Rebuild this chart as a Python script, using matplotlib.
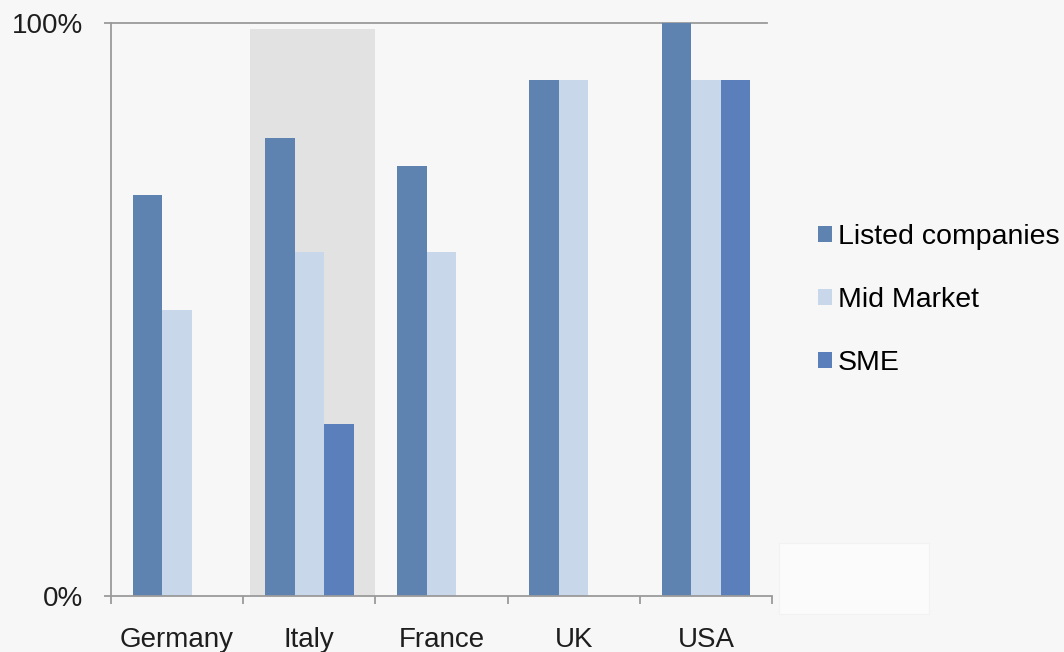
import matplotlib
matplotlib.use("Agg")
import matplotlib.pyplot as plt
from matplotlib.patches import Rectangle
import numpy as np

plt.rcParams['font.family'] = ['Liberation Sans', 'DejaVu Sans']

countries = ["Germany", "Italy", "France", "UK", "USA"]
series_names = ["Listed companies", "Mid Market", "SME"]
listed = [0.70, 0.80, 0.75, 0.90, 1.00]
mid_market = [0.50, 0.60, 0.60, 0.90, 0.90]
sme = [0.0, 0.30, 0.0, 0.0, 0.90]
y_ticks = [0, 1]
y_labels = ["0%", "100%"]
highlight_country = "Italy"

colors = ["#5f83b1", "#c9d7ea", "#5a7fbb"]
bg = "#f7f7f7"

fig = plt.figure(figsize=(10.64, 6.52), dpi=100, facecolor=bg)
ax = fig.add_axes([111/1064, 1-596/652, (772-111)/1064, (596-23)/652])
ax.set_facecolor(bg)

x = np.arange(len(countries))
w = 0.223

# highlight band
hi = countries.index(highlight_country)
ax.add_patch(Rectangle((hi - 0.45, 0), 0.95, 0.99, facecolor="#e2e2e2",
                       edgecolor="none", zorder=0))

for i, (vals, c, name) in enumerate(zip([listed, mid_market, sme], colors, series_names)):
    ax.bar(x + (i - 1) * w, vals, width=w, color=c, label=name, zorder=2)

ax.set_xlim(-0.5, len(countries) - 0.5)
ax.set_ylim(0, 1)

for s in ["right", "top"]:
    ax.spines[s].set_visible(False)
for s in ["left", "bottom"]:
    ax.spines[s].set_color("#9a9a9a")
    ax.spines[s].set_linewidth(1.3)

ax.axhline(1.0, xmin=0, xmax=(767-111)/(772-111), color="#9a9a9a", lw=1.3, zorder=1, clip_on=False)

ax.set_yticks(y_ticks)
ax.set_yticklabels(y_labels, fontsize=20, color="#1e1e1e")
ax.tick_params(axis="y", length=5, width=1.3, color="#9a9a9a", pad=15)

ax.set_xticks(x)
ax.set_xticklabels(countries, fontsize=20, color="#1e1e1e")
ax.set_xticks(np.arange(-0.5, len(countries)), minor=True)
ax.tick_params(axis="x", which="major", length=0, pad=22)
ax.tick_params(axis="x", which="minor", length=6, width=1.3, color="#9a9a9a")

fig.legend(loc="center left", bbox_to_anchor=(818/1064, 1-300/652), frameon=False,
           fontsize=20.5, handlelength=0.5, handleheight=0.5, handletextpad=0.2,
           labelspacing=1.3, borderpad=0, borderaxespad=0)

fig.patches.append(Rectangle((779/1064, 1-614/652), 150/1064, 71/652,
                             transform=fig.transFigure, facecolor="#fbfbfb",
                             edgecolor="#f2f2f2", lw=0.8, zorder=0))

fig.savefig("out.png", dpi=100, facecolor=bg)
